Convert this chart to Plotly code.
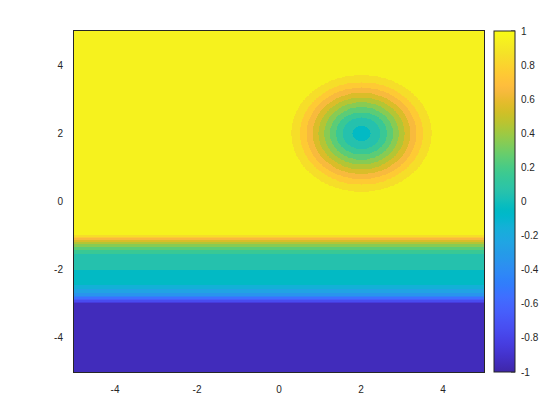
import numpy as np
import plotly.graph_objects as go

# --- values ---
# Horizontal bands (filled contour levels, step 0.1): top edge of each band (data y) and its value
y_band_tops = [5.0, -0.99, -1.04, -1.08, -1.13, -1.19, -1.25, -1.32, -1.41, -1.53,
               -2.0, -2.46, -2.58, -2.67, -2.74, -2.80, -2.85, -2.90, -2.94, -2.98]
y_band_values = [0.95, 0.85, 0.75, 0.65, 0.55, 0.45, 0.35, 0.25, 0.15, 0.05,
                 -0.05, -0.15, -0.25, -0.35, -0.45, -0.55, -0.65, -0.75, -0.85, -0.95]

# Concentric rings around the dip: centre, outer radius of each ring and its value
dip_center = (2.0, 2.0)
ring_outer_radii = [99.0, 1.71, 1.50, 1.34, 1.19, 1.05, 0.91, 0.77, 0.62, 0.46, 0.22]
ring_values = [0.95, 0.85, 0.75, 0.65, 0.55, 0.45, 0.35, 0.25, 0.15, 0.05, -0.05]

x_ticks = [-4, -2, 0, 2, 4]
y_ticks = [-4, -2, 0, 2, 4]
cbar_ticks = [-1, -0.8, -0.6, -0.4, -0.2, 0, 0.2, 0.4, 0.6, 0.8, 1]
cbar_labels = ["-1", "-0.8", "-0.6", "-0.4", "-0.2", "0", "0.2", "0.4", "0.6", "0.8", "1"]

# --- grid built by band lookup ---
xs = np.linspace(-5, 5, 411)
ys = np.linspace(-5, 5, 501)
X, Y = np.meshgrid(xs, ys)

tops = np.array(y_band_tops)
yv = np.array(y_band_values)
idx_y = np.array([np.nonzero(tops >= y)[0][-1] for y in ys])
Zy = yv[idx_y][:, None] * np.ones_like(X)

R = np.hypot(X - dip_center[0], Y - dip_center[1])
radii = np.array(ring_outer_radii)
rv = np.array(ring_values)
Zc = np.full_like(X, rv[0])
for r, v in zip(radii, rv):
    Zc = np.where(R <= r, v, Zc)

Z = np.round(np.minimum(Zy, Zc), 2)

parula = [
 (0.2422, 0.1504, 0.6603), (0.2504, 0.1650, 0.7076), (0.2578, 0.1818, 0.7511), (0.2647, 0.1978, 0.7952),
 (0.2706, 0.2147, 0.8364), (0.2751, 0.2342, 0.8710), (0.2783, 0.2559, 0.8991), (0.2803, 0.2782, 0.9221),
 (0.2813, 0.3006, 0.9414), (0.2810, 0.3228, 0.9579), (0.2795, 0.3447, 0.9717), (0.2760, 0.3667, 0.9829),
 (0.2699, 0.3892, 0.9906), (0.2602, 0.4123, 0.9952), (0.2440, 0.4358, 0.9988), (0.2206, 0.4603, 0.9973),
 (0.1963, 0.4847, 0.9892), (0.1834, 0.5074, 0.9798), (0.1786, 0.5289, 0.9682), (0.1764, 0.5499, 0.9520),
 (0.1687, 0.5703, 0.9359), (0.1540, 0.5902, 0.9218), (0.1460, 0.6091, 0.9079), (0.1380, 0.6276, 0.8973),
 (0.1248, 0.6459, 0.8883), (0.1113, 0.6630, 0.8763), (0.0952, 0.6798, 0.8598), (0.0689, 0.6948, 0.8394),
 (0.0297, 0.7082, 0.8163), (0.0036, 0.7203, 0.7917), (0.0067, 0.7312, 0.7660), (0.0433, 0.7411, 0.7394),
 (0.0964, 0.7500, 0.7120), (0.1408, 0.7584, 0.6842), (0.1717, 0.7670, 0.6554), (0.1938, 0.7758, 0.6251),
 (0.2161, 0.7843, 0.5923), (0.2470, 0.7918, 0.5567), (0.2906, 0.7973, 0.5188), (0.3406, 0.8008, 0.4789),
 (0.3909, 0.8029, 0.4354), (0.4456, 0.8024, 0.3909), (0.5044, 0.7993, 0.3480), (0.5616, 0.7942, 0.3045),
 (0.6174, 0.7876, 0.2612), (0.6720, 0.7793, 0.2227), (0.7242, 0.7698, 0.1910), (0.7738, 0.7598, 0.1646),
 (0.8203, 0.7498, 0.1535), (0.8634, 0.7406, 0.1596), (0.9035, 0.7330, 0.1774), (0.9393, 0.7288, 0.2100),
 (0.9728, 0.7298, 0.2394), (0.9956, 0.7434, 0.2371), (0.9970, 0.7659, 0.2199), (0.9952, 0.7893, 0.2028),
 (0.9892, 0.8136, 0.1885), (0.9786, 0.8386, 0.1766), (0.9676, 0.8639, 0.1643), (0.9610, 0.8890, 0.1537),
 (0.9597, 0.9135, 0.1423), (0.9628, 0.9373, 0.1265), (0.9691, 0.9606, 0.1064), (0.9769, 0.9839, 0.0805)]
n = len(parula)
colorscale = [[i / (n - 1), "rgb(%d,%d,%d)" % tuple(round(c * 255) for c in col)] for i, col in enumerate(parula)]

axcol = "#262626"
font = dict(family="Liberation Sans, Arial, sans-serif", size=10, color=axcol)

plot_w = 552 - 66 - 76
cb_x = 1.0244
cb_thick = 21

fig = go.Figure(go.Heatmap(
    x=xs, y=ys, z=Z, zmin=-1, zmax=1, colorscale=colorscale, zsmooth=False,
    hoverinfo="skip",
    colorbar=dict(
        x=cb_x, xanchor="left", xpad=0, y=0.5, yanchor="middle", ypad=0,
        len=1, lenmode="fraction", thickness=cb_thick, thicknessmode="pixels",
        outlinewidth=1, outlinecolor=axcol,
        ticks="outside", ticklen=4, tickcolor="rgba(0,0,0,0)",
        tickvals=cbar_ticks, ticktext=cbar_labels, tickfont=font,
    ),
))

# small inward tick marks on the right edge of the colour bar (as in the reference)
cb_right = cb_x + cb_thick / plot_w
for t in cbar_ticks:
    frac = (t + 1) / 2
    fig.add_shape(type="line", xref="paper", yref="paper",
                  x0=cb_right - 4 / plot_w, x1=cb_right, y0=frac, y1=frac,
                  line=dict(color=axcol, width=1))

fig.update_layout(
    width=552, height=412,
    margin=dict(l=66, r=76, t=23, b=48),
    paper_bgcolor="white", plot_bgcolor="white",
    font=font,
    xaxis=dict(range=[-5, 5], tickvals=x_ticks, ticktext=[str(t) for t in x_ticks],
               showgrid=False, zeroline=False, showline=True, mirror=True,
               linecolor=axcol, linewidth=1, ticks="", ticklabelstandoff=8),
    yaxis=dict(range=[-5, 5], tickvals=y_ticks, ticktext=[str(t) for t in y_ticks],
               showgrid=False, zeroline=False, showline=True, mirror=True,
               linecolor=axcol, linewidth=1, ticks="", ticklabelstandoff=8),
)

fig.write_html("out.html")
